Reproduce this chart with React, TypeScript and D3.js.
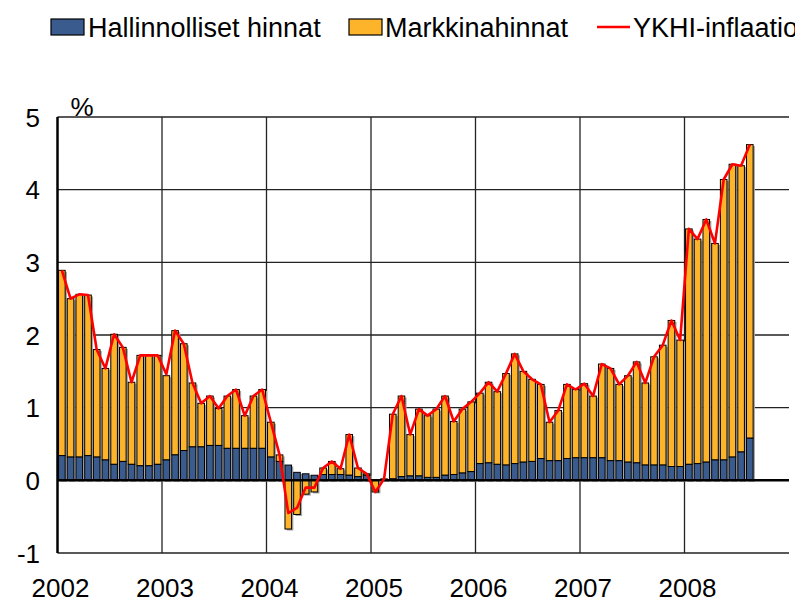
import React from "react";
import * as d3 from "d3";

// kuukausittaiset arvot 1/2002 - 8/2008, %
const years = ["2002", "2003", "2004", "2005", "2006", "2007", "2008"];
const yTicks = [-1, 0, 1, 2, 3, 4, 5];

const hallinnolliset = [
  0.34, 0.32, 0.32, 0.34, 0.32, 0.28, 0.22, 0.26, 0.22, 0.2, 0.2, 0.22,
  0.28, 0.35, 0.41, 0.46, 0.46, 0.48, 0.48, 0.44, 0.44, 0.44, 0.44, 0.44,
  0.32, 0.26, 0.21, 0.11, 0.09, 0.07, 0.08, 0.08, 0.08, 0.07, 0.05, 0.07,
  0.0, 0.01, 0.02, 0.05, 0.06, 0.06, 0.04, 0.04, 0.07, 0.08, 0.1, 0.12,
  0.23, 0.24, 0.22, 0.21, 0.23, 0.25, 0.26, 0.3, 0.27, 0.27, 0.3, 0.31,
  0.31, 0.31, 0.31, 0.27, 0.27, 0.25, 0.24, 0.21, 0.21, 0.21, 0.19, 0.19,
  0.22, 0.23, 0.25, 0.28, 0.28, 0.32, 0.39, 0.58,
];

const markkina = [
  2.55, 2.18, 2.24, 2.21, 1.48, 1.26, 1.79, 1.57, 1.13, 1.52, 1.52, 1.5,
  1.16, 1.71, 1.47, 0.88, 0.6, 0.68, 0.51, 0.72, 0.81, 0.45, 0.72, 0.81,
  0.48, 0.09, -0.67, -0.47, -0.19, -0.16, 0.09, 0.18, 0.08, 0.56, 0.12, 0.02,
  -0.16, 0.01, 0.89, 1.11, 0.57, 0.92, 0.85, 0.94, 1.09, 0.73, 0.88, 0.96,
  0.97, 1.11, 1.0, 1.26, 1.51, 1.25, 1.13, 1.02, 0.53, 0.69, 1.02, 0.94,
  1.02, 0.85, 1.29, 1.27, 1.05, 1.19, 1.39, 1.13, 1.49, 1.65, 2.01, 1.74,
  3.24, 3.09, 3.34, 2.98, 3.86, 4.03, 3.94, 4.04,
];

const ykhi = [
  2.89, 2.5, 2.56, 2.55, 1.8, 1.54, 2.01, 1.83, 1.35, 1.72, 1.72, 1.72,
  1.46, 2.06, 1.88, 1.34, 1.06, 1.16, 0.99, 1.16, 1.25, 0.89, 1.16, 1.25,
  0.8, 0.35, -0.45, -0.38, -0.1, -0.1, 0.17, 0.26, 0.16, 0.63, 0.17, 0.09,
  -0.16, 0.02, 0.91, 1.16, 0.63, 0.98, 0.89, 0.98, 1.16, 0.81, 0.98, 1.08,
  1.2, 1.35, 1.22, 1.47, 1.74, 1.5, 1.39, 1.32, 0.8, 0.96, 1.32, 1.25,
  1.33, 1.16, 1.6, 1.54, 1.32, 1.44, 1.63, 1.34, 1.7, 1.86, 2.2, 1.93,
  3.46, 3.32, 3.59, 3.26, 4.14, 4.35, 4.33, 4.62,
];

const BLUE = "#3a5b8e";
const ORANGE = "#fdb42b";
const FONT = "'Liberation Sans', Arial, sans-serif";

export default function App() {
  const width = 795,
    height = 603;
  const left = 57.5,
    right = 789,
    top = 117,
    bottom = 553;

  const x = d3.scaleLinear().domain([0, 84]).range([left, right]);
  const y = d3.scaleLinear().domain([-1, 5]).range([bottom, top]);
  const bw = 6.6;

  const line = d3
    .line<number>()
    .x((d, i) => x(i + 0.5))
    .y((d) => y(d));

  const bars = hallinnolliset.map((b, i) => {
    const m = markkina[i];
    const cx = x(i + 0.5);
    // orange stacks on blue when positive, else goes below zero
    const o0 = m >= 0 ? b : 0;
    const o1 = m >= 0 ? b + m : m;
    return { cx, b, o0, o1 };
  });

  const rect = (x0: number, v0: number, v1: number) => ({
    x: x0 - bw / 2,
    y: Math.min(y(v0), y(v1)),
    w: bw,
    h: Math.abs(y(v0) - y(v1)),
  });

  return (
    <svg
      width={width}
      height={height}
      style={{ position: "absolute", left: 0, top: 0, background: "#fff" }}
      fontFamily={FONT}
    >
      {/* gridlines */}
      {yTicks.map((t) => (
        <line key={"h" + t} x1={left} x2={right} y1={y(t)} y2={y(t)} stroke="#222" strokeWidth={1.3} />
      ))}
      {years.slice(1).map((yr, i) => (
        <line
          key={"v" + yr}
          x1={x((i + 1) * 12)}
          x2={x((i + 1) * 12)}
          y1={top}
          y2={bottom}
          stroke="#222"
          strokeWidth={1.3}
        />
      ))}

      {/* shadows */}
      {bars.map((d, i) => {
        const lo = Math.min(0, d.o1, d.b);
        const hi = Math.max(0, d.o1, d.b);
        const r = rect(d.cx, lo, hi);
        return <rect key={"s" + i} x={r.x + 1.8} y={r.y + 1.5} width={r.w} height={r.h} fill="#a6a6a6" />;
      })}

      {/* bars */}
      {bars.map((d, i) => {
        const rb = rect(d.cx, 0, d.b);
        const ro = rect(d.cx, d.o0, d.o1);
        return (
          <g key={"b" + i} stroke="#000" strokeWidth={1}>
            {ro.h > 0 && <rect x={ro.x} y={ro.y} width={ro.w} height={ro.h} fill={ORANGE} />}
            {rb.h > 0 && <rect x={rb.x} y={rb.y} width={rb.w} height={rb.h} fill={BLUE} />}
          </g>
        );
      })}

      {/* axes */}
      <line x1={left} x2={right} y1={y(0)} y2={y(0)} stroke="#000" strokeWidth={2.5} />
      <line x1={left} x2={left} y1={top} y2={bottom} stroke="#000" strokeWidth={2.5} />

      <path d={line(ykhi) || ""} fill="none" stroke="#ff0000" strokeWidth={2.6} strokeLinejoin="round" />

      {/* y labels */}
      {yTicks.map((t) => (
        <text key={"yl" + t} x={40} y={y(t) + 9.5} textAnchor="end" fontSize={26} fill="#000">
          {t}
        </text>
      ))}
      <text x={82} y={116} textAnchor="middle" fontSize={26}>
        %
      </text>

      {/* x labels */}
      {years.map((yr, i) => (
        <text key={"xl" + yr} x={x(i * 12) + 3} y={597} textAnchor="middle" fontSize={26}>
          {yr}
        </text>
      ))}

      {/* legend */}
      <rect x={51} y={19} width={33} height={16} fill={BLUE} stroke="#000" strokeWidth={1.2} />
      <text x={88} y={37} fontSize={27}>
        Hallinnolliset hinnat
      </text>
      <rect x={349} y={19} width={33} height={16} fill={ORANGE} stroke="#000" strokeWidth={1.2} />
      <text x={385} y={37} fontSize={27}>
        Markkinahinnat
      </text>
      <line x1={597} x2={630} y1={27} y2={27} stroke="#ff0000" strokeWidth={2.6} />
      <text x={633} y={37} fontSize={27}>
        YKHI-inflaatio
      </text>
    </svg>
  );
}
